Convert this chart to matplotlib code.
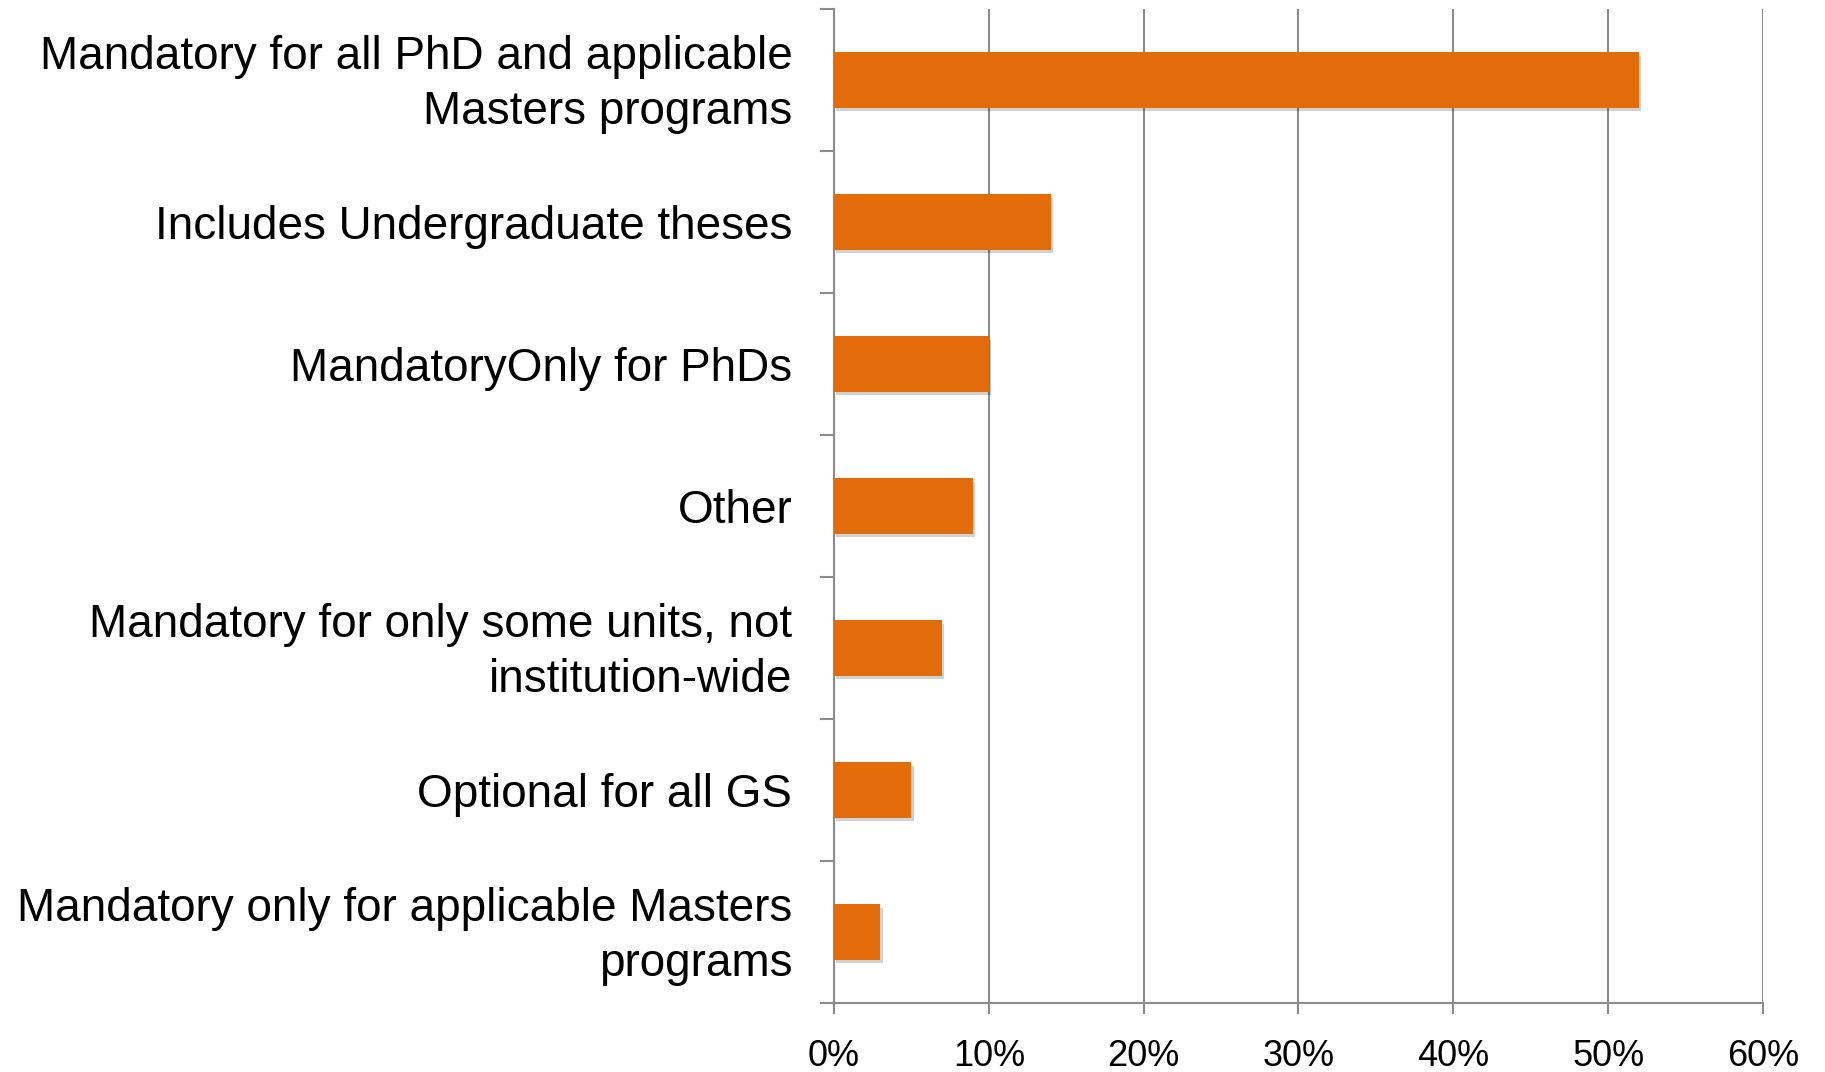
import matplotlib
matplotlib.use("Agg")
import matplotlib.pyplot as plt
import matplotlib.patheffects as pe
import numpy as np

# categories from top to bottom, as shown
categories = [
    "Mandatory for all PhD and applicable\nMasters programs",
    "Includes Undergraduate theses",
    "MandatoryOnly for PhDs",
    "Other",
    "Mandatory for only some units, not\ninstitution-wide",
    "Optional for all GS",
    "Mandatory only for applicable Masters\nprograms",
]
values = [52, 14, 10, 9, 7, 5, 3]
xticks = [0, 10, 20, 30, 40, 50, 60]
xtick_labels = ["0%", "10%", "20%", "30%", "40%", "50%", "60%"]

bar_color = "#E36C0A"
grid_color = "#8C8C8C"

plt.rcParams["font.family"] = ["Liberation Sans", "DejaVu Sans"]

fig = plt.figure(figsize=(18.25, 10.72), dpi=100)
ax = fig.add_axes([0.457, 0.0644, 0.509, 0.9272])

n = len(categories)
y = np.arange(n)[::-1]
bars = ax.barh(y, values, height=0.39, color=bar_color, zorder=3)
for b in bars:
    b.set_path_effects([pe.SimplePatchShadow(offset=(1.5, -2.5), alpha=0.18, shadow_rgbFace="black"),
                        pe.Normal()])

ax.set_xlim(0, 60)
ax.set_ylim(-0.5, n - 0.5)

ax.set_xticks(xticks)
ax.set_xticklabels(xtick_labels, fontsize=26)
ax.xaxis.grid(True, color=grid_color, linewidth=1.5, zorder=0)
ax.tick_params(axis="x", direction="out", length=8, width=1.5, color=grid_color, pad=18)

# category labels, right aligned next to the axis; two-line ones sit a bit higher
ax.set_yticks([])
for yi, lab in zip(y, categories):
    dy = 4 if "\n" in lab else 0
    ax.annotate(lab, xy=(0, yi), xycoords=("axes fraction", "data"),
                xytext=(-30, dy), textcoords="offset points",
                ha="right", va="center_baseline", multialignment="right",
                fontsize=33, linespacing=1.3)
ax.set_yticks(np.arange(n + 1) - 0.5, minor=True)
ax.tick_params(axis="y", which="minor", direction="out", length=10, width=1.5, color=grid_color)

for s in ["top", "right"]:
    ax.spines[s].set_visible(False)
for s in ["left", "bottom"]:
    ax.spines[s].set_color(grid_color)
    ax.spines[s].set_linewidth(1.5)

fig.savefig("out.png", dpi=100)
